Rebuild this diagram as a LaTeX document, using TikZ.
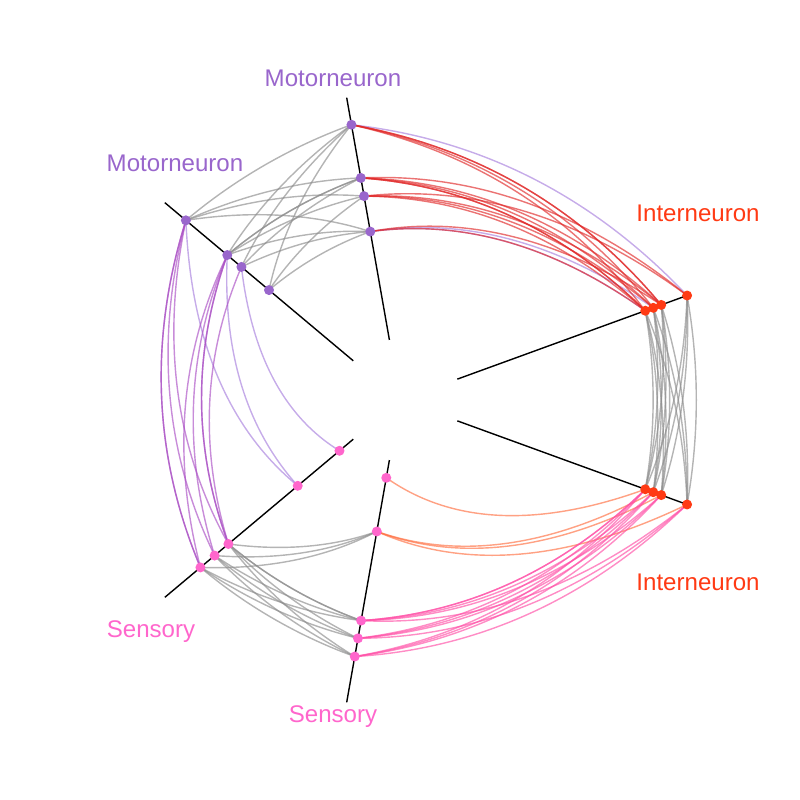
\documentclass[tikz,border=0pt]{standalone}
\usepackage{fontspec}
\setmainfont{Liberation Sans}
\usepackage{tikz}
\usetikzlibrary{calc}
\pgfdeclarelayer{background}
\pgfsetlayers{background,main}

\definecolor{motorcol}{HTML}{9966CC}
\definecolor{intercol}{HTML}{FF3A14}
\definecolor{sensecol}{HTML}{FF66CC}
\definecolor{graycol}{HTML}{8C8C8C}
\definecolor{redcol}{HTML}{E02828}
\definecolor{lilaccol}{HTML}{A880DD}
\definecolor{purplecol}{HTML}{AA4FC4}
\definecolor{pinkcol}{HTML}{FF4FA6}
\definecolor{orangecol}{HTML}{FF6E40}

% quadratic hive link: style, source, target, half of the angle between axes
\newcommand\hivelink[4]{%
  \path ($(O)!1!#4:(#2)$) coordinate (q1) ($(O)!1!-#4:(#3)$) coordinate (q2);
  \coordinate (q) at ($(q1)!0.5!(q2)$);
  \draw[#1] (#2.center) .. controls ($(#2)!0.6667!(q)$) and ($(#3)!0.6667!(q)$) .. (#3.center);}

\begin{document}
\begin{tikzpicture}[
   axisline/.style={line width=0.8pt,black},
   dot/.style={circle,inner sep=0pt,minimum size=0.2cm,fill=#1},
   link/.style={line width=0.8pt,draw=#1,draw opacity=0.65},
   lbl/.style={font=\fontsize{13.7}{16}\selectfont,text=#1}]
  \useasboundingbox (-8,-8) rectangle (8,8);
  \coordinate (O) at (0,0);
  % nodes on the doubled axes
  \foreach \n/\r in {1/5.59,2/4.51,3/4.14,4/3.42} {
    \node[dot=motorcol] (ma\n) at (100:\r) {};
    \node[dot=motorcol] (mb\n) at (140:\r) {};
  }
  \foreach \n/\r in {1/5.22,2/5.39,3/5.56,4/6.11} {
    \node[dot=intercol] (ia\n) at (20:\r) {};
    \node[dot=intercol] (ib\n) at (-20:\r) {};
  }
  \foreach \n/\r in {1/1.58,2/2.67,3/4.48,4/4.84,5/5.21} {
    \node[dot=sensecol] (sa\n) at (220:\r) {};
    \node[dot=sensecol] (sb\n) at (260:\r) {};
  }
  % axis labels
  \node[lbl=motorcol] (lblma) at (-1.34,6.43) {Motorneuron};
  \node[lbl=motorcol] (lblmb) at (-4.50,4.73) {Motorneuron};
  \node[lbl=intercol] (lblia) at (5.96,3.74) {Interneuron};
  \node[lbl=intercol] (lblib) at (5.96,-3.64) {Interneuron};
  \node[lbl=sensecol] (lblsa) at (-4.98,-4.64) {Sensory};
  \node[lbl=sensecol] (lblsb) at (-1.34,-6.34) {Sensory};

  \begin{pgfonlayer}{background}
  % axes
  \foreach \a in {20,100,140,220,260,340}
    \draw[axisline] (\a:1.22) -- (\a:6.14);
  % motor -- motor
  \foreach \s/\t in {ma1/mb1,ma1/mb2,ma1/mb3,ma1/mb4,ma2/mb1,ma2/mb2,ma2/mb2,
                     ma2/mb3,ma3/mb1,ma3/mb2,ma3/mb4,ma4/mb1,ma4/mb2,ma4/mb3,ma4/mb4}
    \hivelink{link=graycol}{\s}{\t}{20};
  % inter -- inter
  \foreach \s/\t in {ia1/ib1,ia1/ib2,ia1/ib3,ia1/ib4,ia2/ib1,ia2/ib2,ia2/ib3,ia2/ib4,
                     ia3/ib1,ia3/ib2,ia3/ib3,ia3/ib4,ia4/ib1,ia4/ib2,ia4/ib3,ia4/ib4}
    \hivelink{link=graycol}{\s}{\t}{-20};
  % sensory -- sensory
  \foreach \s/\t in {sa3/sb2,sa4/sb2,sa5/sb2,sa3/sb3,sa3/sb4,sa3/sb5,sa4/sb3,
                     sa4/sb4,sa4/sb5,sa5/sb3,sa5/sb4,sa5/sb5,sa3/sb3}
    \hivelink{link=graycol}{\s}{\t}{20};
  % motor -> inter
  \foreach \s/\t/\c in {ma1/ia4/lilaccol,ma4/ia1/lilaccol,ma4/ia2/lilaccol,
                        ma1/ia1/redcol,ma1/ia2/redcol,ma1/ia3/redcol,ma1/ia3/redcol,
                        ma2/ia1/redcol,ma2/ia2/redcol,ma2/ia3/redcol,ma2/ia4/redcol,
                        ma2/ia1/redcol,ma3/ia1/redcol,ma3/ia2/redcol,ma3/ia3/redcol,
                        ma3/ia4/redcol,ma4/ia1/redcol,ma4/ia3/redcol}
    \hivelink{link=\c}{\s}{\t}{-40};
  % sensory -> inter
  \foreach \s/\t/\c in {sb1/ib1/orangecol,sb2/ib2/orangecol,sb2/ib4/orangecol,
                        sb2/ib3/orangecol,
                        sb3/ib1/pinkcol,sb3/ib2/pinkcol,sb3/ib3/pinkcol,sb3/ib4/pinkcol,
                        sb3/ib1/pinkcol,sb4/ib1/pinkcol,sb4/ib2/pinkcol,sb4/ib3/pinkcol,
                        sb4/ib4/pinkcol,sb5/ib1/pinkcol,sb5/ib2/pinkcol,sb5/ib3/pinkcol,
                        sb5/ib4/pinkcol}
    \hivelink{link=\c}{\s}{\t}{40};
  % motor -> sensory
  \foreach \s/\t/\c in {mb1/sa2/lilaccol,mb2/sa2/lilaccol,mb3/sa1/lilaccol,
                        mb1/sa3/purplecol,mb1/sa4/purplecol,mb1/sa5/purplecol,
                        mb1/sa5/purplecol,mb2/sa3/purplecol,mb2/sa4/purplecol,
                        mb2/sa5/purplecol,mb2/sa3/purplecol,mb3/sa3/purplecol}
    \hivelink{link=\c}{\s}{\t}{40};
  \end{pgfonlayer}
\end{tikzpicture}
\end{document}
